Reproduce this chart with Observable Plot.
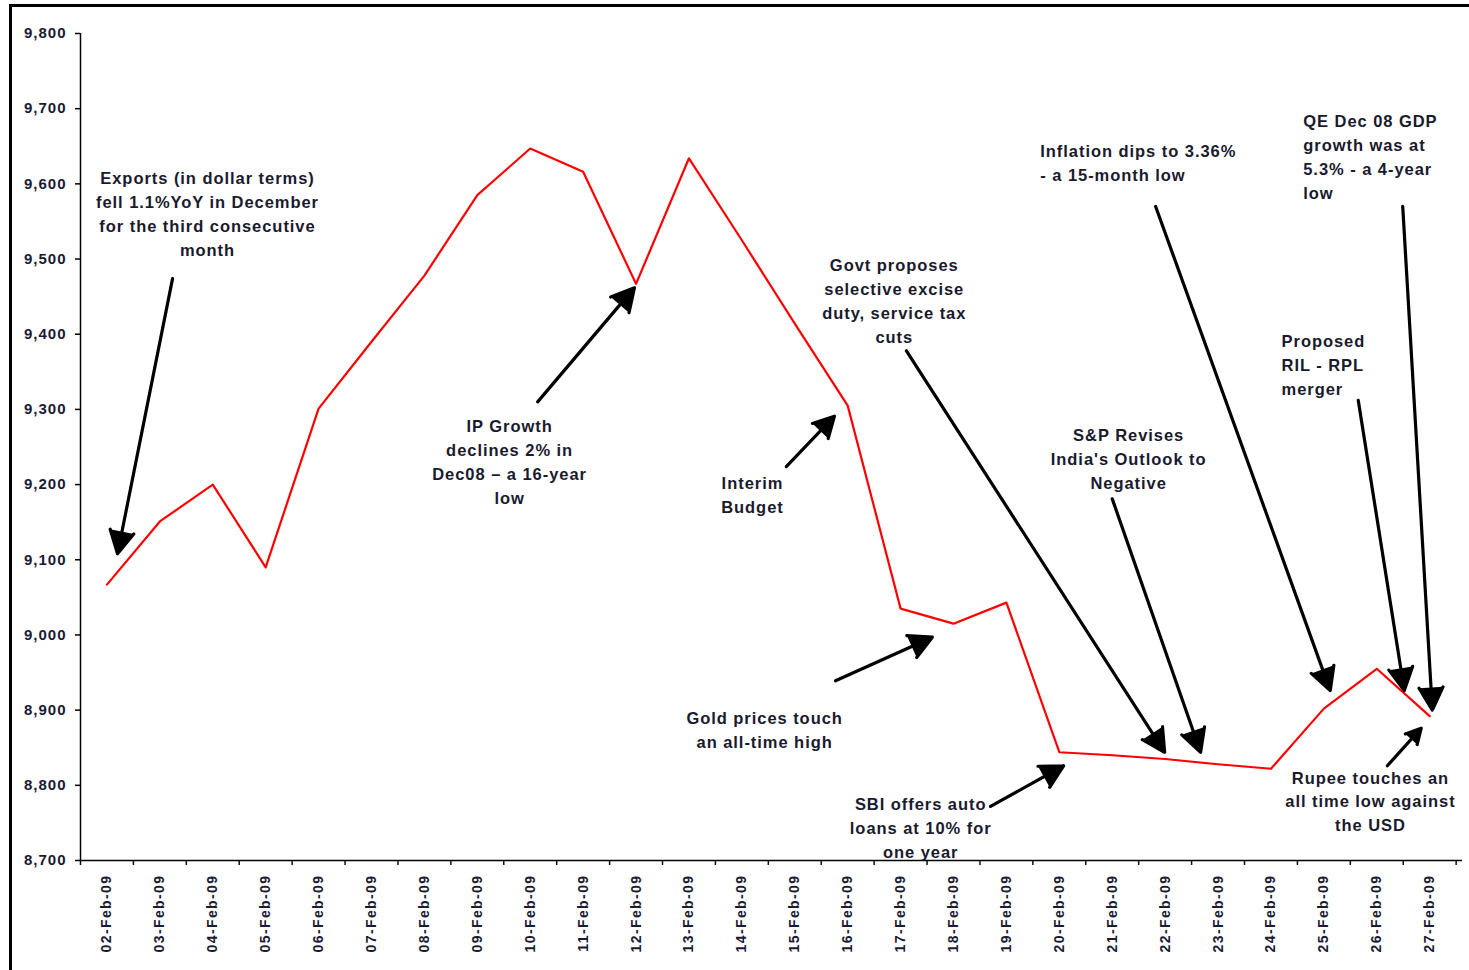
<!DOCTYPE html>
<html>
<head>
<meta charset="utf-8">
<script src="https://cdn.jsdelivr.net/npm/d3@7"></script>
<script src="https://cdn.jsdelivr.net/npm/@observablehq/plot@0.6"></script>
<style>
  html, body { margin: 0; padding: 0; background: #fff; }
  body { width: 1469px; height: 970px; position: relative; overflow: hidden; }
  #frame { position: absolute; left: 9px; top: 4px; width: 1600px; height: 1100px;
           border-top: 3px solid #000; border-left: 3px solid #000; }
  #chart { position: absolute; left: 0; top: 0; }
  g[aria-label="y-axis tick label"] text { letter-spacing: 1px; }
  g[aria-label="x-axis tick label"] text { letter-spacing: 1.4px; }
  g[aria-label="text"] text { letter-spacing: 0.95px; }
</style>
</head>
<body>
<div id="frame"></div>
<div id="chart"></div>
<script>
const dates = ["02-Feb-09","03-Feb-09","04-Feb-09","05-Feb-09","06-Feb-09","07-Feb-09","08-Feb-09",
  "09-Feb-09","10-Feb-09","11-Feb-09","12-Feb-09","13-Feb-09","14-Feb-09","15-Feb-09","16-Feb-09",
  "17-Feb-09","18-Feb-09","19-Feb-09","20-Feb-09","21-Feb-09","22-Feb-09","23-Feb-09","24-Feb-09",
  "25-Feb-09","26-Feb-09","27-Feb-09"];
const values = [9067, 9151, 9200, 9090, 9301, 9390, 9478, 9585, 9647, 9616, 9467, 9634, 9525,
  9414, 9305, 9035, 9015, 9043, 8844, 8840, 8835, 8828, 8822, 8902, 8955, 8892];
const yTicks = [8700, 8800, 8900, 9000, 9100, 9200, 9300, 9400, 9500, 9600, 9700, 9800];

// Annotation texts and their anchor points (x in day index, y in index value)
const noteTexts = [
  "Exports (in dollar terms)\nfell 1.1%YoY in December\nfor the third consecutive\nmonth",
  "IP Growth\ndeclines 2% in\nDec08 \u2013 a 16-year\nlow",
  "Interim\nBudget",
  "Govt proposes\nselective excise\nduty, service tax\ncuts",
  "Gold prices touch\nan all-time high",
  "SBI offers auto\nloans at 10% for\none year",
  "S&P Revises\nIndia's Outlook to\nNegative",
  "Inflation dips to 3.36%\n- a 15-month low",
  "QE Dec 08 GDP\ngrowth was at\n5.3% - a 4-year\nlow",
  "Proposed\nRIL - RPL\nmerger",
  "Rupee touches an\nall time low against\nthe USD"
];
const noteX = [1.90, 7.61, 12.20, 14.88, 12.43, 15.38, 19.31, 17.64, 22.61, 22.20, 23.88];
const noteY = [9622, 9292, 9217, 9507, 8904, 8790, 9280, 9658, 9698, 9406, 8825];
const noteAlign = ["middle","middle","middle","middle","middle","middle","middle","start","start","start","middle"];

// Arrows: start (x1,y1) to tip (x2,y2)
const arrowX1 = [1.24, 8.14, 12.84, 15.11, 13.77, 16.70, 19.00, 19.82, 24.49, 23.65, 24.20];
const arrowY1 = [9474, 9310, 9224, 9378, 8939, 8772, 9181, 9570, 9570, 9312, 8826];
const arrowX2 = [0.20, 9.97, 13.75, 19.99, 15.60, 18.08, 20.67, 23.12, 25.05, 24.52, 24.84];
const arrowY2 = [9108, 9462, 9291, 8844, 8997, 8826, 8844, 8926, 8900, 8926, 8876];

const series = dates.map((d, i) => ({i, date: d, value: values[i]}));
const notes = noteTexts.map((t, i) => ({text: t, x: noteX[i], y: noteY[i], align: noteAlign[i]}));
const arrows = arrowX1.map((x1, i) => ({x1, y1: arrowY1[i], x2: arrowX2[i], y2: arrowY2[i]}));

const font = "'Liberation Sans', Arial, sans-serif";
const xEnd = 25.62;
const textOpts = {x: "x", y: "y", text: "text", lineAnchor: "top",
  fontSize: 16.5, fontWeight: "bold", lineHeight: 1.45, fill: "#1a1a2e"};

const chart = Plot.plot({
  width: 1469,
  height: 970,
  marginLeft: 80,
  marginRight: 7,
  marginTop: 33,
  marginBottom: 110,
  style: {fontFamily: font, background: "transparent", color: "#111", overflow: "visible"},
  x: {type: "linear", domain: [-0.5, xEnd]},
  y: {domain: [8700, 9800]},
  marks: [
    Plot.axisY({ticks: yTicks, tickFormat: d3.format(","), tickSize: 5, tickPadding: 9,
      fontSize: 15, fontWeight: "bold", stroke: "#000", strokeWidth: 1.5, label: null, fill: "#1a1a33"}),
    Plot.axisX({ticks: d3.range(27).map(k => k - 0.5), tickFormat: () => "", tickSize: 5,
      strokeWidth: 1.5, label: null}),
    Plot.axisX({ticks: d3.range(dates.length), tickFormat: i => dates[i], tickSize: 0,
      tickPadding: 14, tickRotate: -90, fontSize: 14, fontWeight: "bold", label: null, fill: "#1a1a33"}),
    Plot.ruleX([-0.5], {y1: 8700, y2: 9800, stroke: "#000", strokeWidth: 1.5}),
    Plot.ruleY([8700], {x1: -0.5, x2: xEnd, stroke: "#000", strokeWidth: 1.5}),
    Plot.line(series, {x: "i", y: "value", stroke: "#ff0000", strokeWidth: 2.2}),
    Plot.arrow(arrows, {x1: "x1", y1: "y1", x2: "x2", y2: "y2", stroke: "#000",
      strokeWidth: 3.2, headLength: 12, headAngle: 56}),
    Plot.text(notes.filter(d => d.align === "middle"), {...textOpts, textAnchor: "middle"}),
    Plot.text(notes.filter(d => d.align === "start"), {...textOpts, textAnchor: "start"})
  ]
});

// fill arrow heads as solid triangles
d3.select(chart).selectAll('g[aria-label="arrow"] path').each(function() {
  const nums = (this.getAttribute("d") || "").match(/-?\d*\.?\d+(e[-+]?\d+)?/gi);
  if (!nums || nums.length < 10) return;
  const n = nums.map(Number);
  d3.select(this.parentNode).append("path")
    .attr("d", `M${n[4]},${n[5]}L${n[6]},${n[7]}L${n[8]},${n[9]}Z`)
    .attr("fill", "#000").attr("stroke", "none");
});

document.getElementById("chart").appendChild(chart);
</script>
</body>
</html>
